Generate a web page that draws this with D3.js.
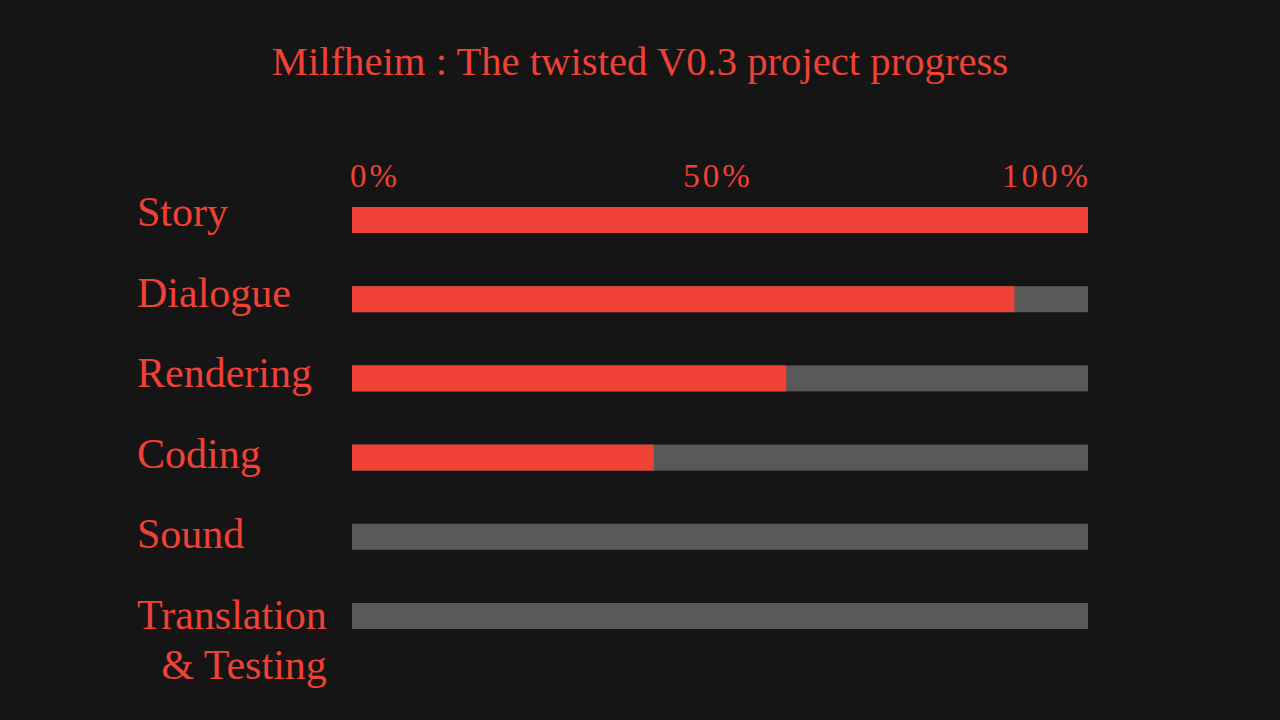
<!DOCTYPE html>
<html><head><meta charset="utf-8">
<script src="https://cdn.jsdelivr.net/npm/d3@7"></script>
<style>html,body{margin:0;padding:0;background:#151515;}</style>
</head><body>
<svg id="c" width="1280" height="720"></svg>
<script>
const categories = ["Story","Dialogue","Rendering","Coding","Sound","Translation\n& Testing"];
const progress = [100, 90, 59, 41, 0, 0];
const tickValues = [0, 50, 100];
const tickLabels = ["0%","50%","100%"];
const title = "Milfheim : The twisted V0.3 project progress";

const RED = "#ef4136", GRAY = "#595959", BG = "#151515";
const FONT = "'Liberation Serif', 'DejaVu Serif', serif";
const svg = d3.select("#c");
svg.append("rect").attr("width",1280).attr("height",720).attr("fill",BG);

const x = d3.scaleLinear().domain([0,100]).range([352,1088]);
const y = d3.scalePoint().domain(categories).range([207,603]);
const yLabel = d3.scalePoint().domain(categories).range([226,629]);
const bh = 26;

svg.append("text").attr("x",640).attr("y",75).attr("text-anchor","middle")
  .attr("fill",RED).attr("font-family",FONT).attr("font-size",40.7).text(title);

// ticks
svg.selectAll(".tick").data(tickValues).join("text")
  .attr("x", (d,i) => i===tickValues.length-1 ? x(d)+3 : x(d)-2).attr("y",187)
  .attr("text-anchor",(d,i)=> i===0?"start":(i===tickValues.length-1?"end":"middle"))
  .attr("fill",RED).attr("font-family",FONT).attr("font-size",33).attr("letter-spacing",3)
  .text((d,i)=>tickLabels[i]);

svg.selectAll(".bg").data(categories).join("rect")
  .attr("x",x(0)).attr("y",d=>y(d)).attr("width",x(100)-x(0)).attr("height",bh).attr("fill",GRAY);
svg.selectAll(".fg").data(categories).join("rect")
  .attr("x",x(0)).attr("y",d=>y(d)).attr("width",(d,i)=>x(progress[i])-x(0)).attr("height",bh).attr("fill",RED);

categories.forEach((c)=>{
  const lines = c.split("\n");
  const t = svg.append("text").attr("fill",RED).attr("font-family",FONT).attr("font-size",42)
    .attr("x",137).attr("y",yLabel(c)).text(lines[0]);
  if (lines.length>1){
    const w = t.node().getComputedTextLength();
    svg.append("text").attr("fill",RED).attr("font-family",FONT).attr("font-size",42)
      .attr("x",137+w).attr("y",yLabel(c)+50).attr("text-anchor","end").text(lines[1]);
  }
});
</script>
</body></html>
